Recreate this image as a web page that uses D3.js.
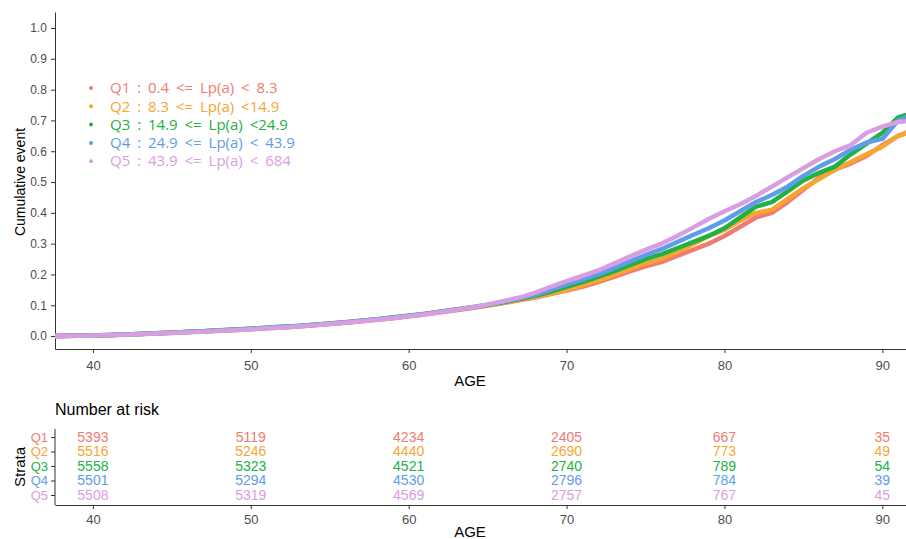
<!DOCTYPE html>
<html>
<head>
<meta charset="utf-8">
<style>
body { margin: 0; background: #fff; }
svg { display: block; }
.axis path, .axis line { stroke: #333; }
.axis text { font-family: 'Liberation Sans', Arial, sans-serif; font-size: 13px; }
</style>
</head>
<body>
<svg></svg>
<script src="https://d3js.org/d3.v7.min.js"></script>
<script>

const ages = [37.6].concat(d3.range(39, 93));

// cumulative event by age, one value per age above
const q1 = [0.000, 0.001, 0.002, 0.003, 0.005, 0.007, 0.009, 0.011, 0.013, 0.015, 0.018, 0.020, 0.022, 0.025, 0.028, 0.031, 0.035, 0.039, 0.043, 0.048, 0.053, 0.058, 0.064, 0.070, 0.077, 0.084, 0.091, 0.099, 0.107, 0.116, 0.125, 0.136,
  0.148, 0.160, 0.175, 0.192, 0.210, 0.226, 0.240, 0.260, 0.280, 0.300, 0.325, 0.355, 0.385, 0.400, 0.435, 0.475, 0.515, 0.540, 0.560, 0.585, 0.620, 0.650, 0.665];
const q2 = [0.000, 0.001, 0.002, 0.003, 0.005, 0.007, 0.009, 0.011, 0.013, 0.016, 0.018, 0.020, 0.023, 0.026, 0.029, 0.032, 0.036, 0.040, 0.044, 0.049, 0.054, 0.059, 0.065, 0.071, 0.078, 0.085, 0.092, 0.100, 0.108, 0.117, 0.127, 0.138,
  0.150, 0.165, 0.180, 0.198, 0.218, 0.236, 0.250, 0.272, 0.298, 0.325, 0.345, 0.375, 0.400, 0.410, 0.445, 0.480, 0.510, 0.540, 0.565, 0.590, 0.615, 0.650, 0.670];
const q3 = [0.000, 0.001, 0.002, 0.003, 0.005, 0.007, 0.009, 0.011, 0.014, 0.016, 0.019, 0.021, 0.024, 0.027, 0.030, 0.033, 0.037, 0.041, 0.045, 0.050, 0.055, 0.060, 0.066, 0.072, 0.079, 0.086, 0.093, 0.101, 0.110, 0.120, 0.131, 0.144,
  0.160, 0.175, 0.192, 0.210, 0.230, 0.250, 0.265, 0.285, 0.305, 0.325, 0.350, 0.385, 0.420, 0.435, 0.470, 0.505, 0.530, 0.550, 0.590, 0.625, 0.660, 0.710, 0.725];
const q4 = [0.000, 0.001, 0.002, 0.004, 0.005, 0.007, 0.009, 0.011, 0.013, 0.016, 0.018, 0.021, 0.024, 0.027, 0.030, 0.033, 0.037, 0.041, 0.045, 0.050, 0.055, 0.060, 0.066, 0.072, 0.079, 0.086, 0.094, 0.102, 0.112, 0.122, 0.134, 0.150,
  0.168, 0.183, 0.200, 0.220, 0.242, 0.263, 0.282, 0.305, 0.328, 0.350, 0.375, 0.405, 0.435, 0.458, 0.485, 0.520, 0.550, 0.575, 0.605, 0.628, 0.640, 0.700, 0.720];
const q5 = [0.000, 0.001, 0.002, 0.003, 0.004, 0.006, 0.008, 0.010, 0.012, 0.014, 0.017, 0.019, 0.022, 0.025, 0.028, 0.031, 0.035, 0.039, 0.043, 0.048, 0.053, 0.058, 0.064, 0.070, 0.077, 0.085, 0.093, 0.102, 0.113, 0.125, 0.140, 0.160,
  0.178, 0.195, 0.213, 0.235, 0.258, 0.280, 0.300, 0.325, 0.352, 0.380, 0.405, 0.428, 0.455, 0.485, 0.515, 0.545, 0.575, 0.600, 0.620, 0.660, 0.680, 0.695, 0.700];

const strata = ['Q1', 'Q2', 'Q3', 'Q4', 'Q5'];
const legendLabels = [
  'Q1 : 0.4 <= Lp(a) < 8.3',
  'Q2 : 8.3 <= Lp(a) <14.9',
  'Q3 : 14.9 <= Lp(a) <24.9',
  'Q4 : 24.9 <= Lp(a) < 43.9',
  'Q5 : 43.9 <= Lp(a) < 684'
];
const riskAges = [40, 50, 60, 70, 80, 90];
const atRisk = [
  [5393, 5119, 4234, 2405, 667, 35],
  [5516, 5246, 4440, 2690, 773, 49],
  [5558, 5323, 4521, 2740, 789, 54],
  [5501, 5294, 4530, 2796, 784, 39],
  [5508, 5319, 4569, 2757, 767, 45]
];
const series = [q1, q2, q3, q4, q5];
const colors = ['#f07b72', '#f7a531', '#20b142', '#5f9ce9', '#d99ee2'];

const width = 906, height = 539;
const svg = d3.select('svg').attr('width', width).attr('height', height);

const x = d3.scaleLinear().domain([37.6, 91.5]).range([55, 906]);
const y = d3.scaleLinear().domain([-0.042, 1.052]).range([349, 12]);

// main axes
svg.append('g').attr('class', 'axis')
  .attr('transform', 'translate(0,349)')
  .call(d3.axisBottom(x).tickValues(riskAges).tickSize(4).tickSizeOuter(0))
  .selectAll('text').attr('dy', '1.1em').style('fill', '#4d4d4d');

svg.append('g').attr('class', 'axis')
  .attr('transform', 'translate(55,0)')
  .call(d3.axisLeft(y).tickValues(d3.range(0, 1.01, 0.1)).tickFormat(d3.format('.1f')).tickSize(4).tickSizeOuter(0))
  .selectAll('text').attr('dx', '-0.1em').style('fill', '#4d4d4d').style('font-size', '12px');

svg.append('text')
  .attr('x', 470).attr('y', 386).attr('text-anchor', 'middle')
  .style('font-family', 'Liberation Sans, sans-serif').style('font-size', '15px')
  .text('AGE');

svg.append('text')
  .attr('transform', 'translate(25,182) rotate(-90)').attr('text-anchor', 'middle')
  .style('font-family', 'Liberation Sans, Arial, sans-serif').style('font-size', '14px')
  .text('Cumulative event');

// curves
const line = d3.line()
  .x((d, i) => x(ages[i]))
  .y(d => y(d));

const clip = svg.append('defs').append('clipPath').attr('id', 'plot');
clip.append('rect').attr('x', 55).attr('y', 12).attr('width', 851).attr('height', 337);

svg.append('g').attr('clip-path', 'url(#plot)')
  .selectAll('path').data(series).join('path')
  .attr('d', line)
  .attr('fill', 'none')
  .attr('stroke', (d, i) => colors[i])
  .attr('stroke-width', 4.5)
  .attr('stroke-linejoin', 'round');

// legend
const legend = svg.append('g').attr('transform', 'translate(91,88)');
const li = legend.selectAll('g').data(legendLabels).join('g')
  .attr('transform', (d, i) => `translate(0,${i * 18.3})`);
li.append('circle').attr('r', 2).attr('fill', (d, i) => colors[i]);
li.append('text').attr('x', 19).attr('dy', '0.35em')
  .attr('fill', (d, i) => colors[i])
  .style('font-family', 'Open Sans, Noto Sans, sans-serif').style('font-size', '15px')
  .style('word-spacing', '3px')
  .text(d => d);

// risk table
const ry = d3.scalePoint().domain(strata).range([437, 495]);

svg.append('text').attr('x', 55).attr('y', 415)
  .style('font-family', 'Liberation Sans, sans-serif').style('font-size', '16px')
  .text('Number at risk');

svg.append('g').attr('class', 'axis')
  .attr('transform', 'translate(0,505)')
  .call(d3.axisBottom(x).tickValues(riskAges).tickSize(4).tickSizeOuter(0))
  .selectAll('text').attr('dy', '0.95em').style('fill', '#4d4d4d');

const ryAxis = svg.append('g').attr('class', 'axis')
  .attr('transform', 'translate(55,0)')
  .call(d3.axisLeft(ry).tickSize(4).tickSizeOuter(0));
ryAxis.select('.domain').attr('d', 'M0,429V505');
ryAxis.selectAll('text').style('fill', (d, i) => colors[i]);

svg.append('text')
  .attr('transform', 'translate(25,467) rotate(-90)').attr('text-anchor', 'middle')
  .style('font-family', 'Liberation Sans, Arial, sans-serif').style('font-size', '15px')
  .text('Strata');

svg.append('text')
  .attr('x', 470).attr('y', 537).attr('text-anchor', 'middle')
  .style('font-family', 'Liberation Sans, sans-serif').style('font-size', '15px')
  .text('AGE');

const rows = svg.append('g').selectAll('g').data(atRisk).join('g')
  .attr('fill', (d, i) => colors[i]);
rows.selectAll('text').data((d, i) => d.map(v => ({ v, row: strata[i] }))).join('text')
  .attr('x', (d, j) => x(riskAges[j]))
  .attr('y', d => ry(d.row))
  .attr('dy', '0.35em')
  .attr('text-anchor', 'middle')
  .style('font-family', 'Liberation Sans, sans-serif').style('font-size', '14px')
  .text(d => d.v);

</script>
</body>
</html>
